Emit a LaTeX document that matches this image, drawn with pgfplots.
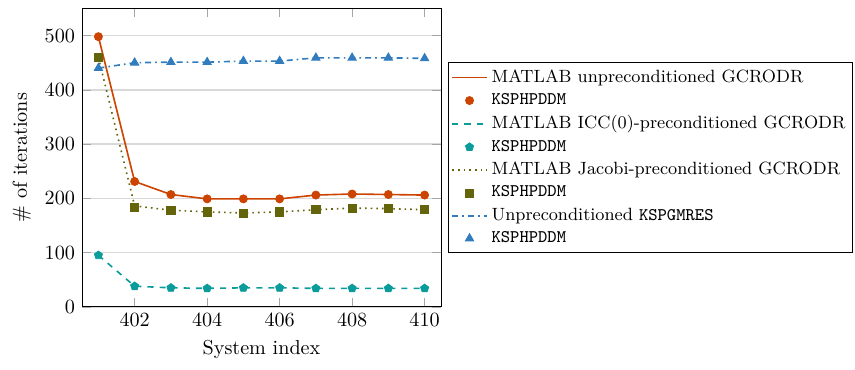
\documentclass[border=0pt]{standalone}
\usepackage{pgfplots}
\pgfplotsset{compat=1.18}
\definecolor{corange}{RGB}{204,68,0}
\definecolor{cteal}{RGB}{10,155,155}
\definecolor{colive}{RGB}{100,100,10}
\definecolor{cblue}{RGB}{48,124,190}
\begin{document}
\begin{tikzpicture}
\begin{axis}[
  scale only axis,
  width=178pt, height=148pt,
  xmin=400.55, xmax=410.45,
  ymin=0, ymax=550,
  xtick={402,404,406,408,410},
  ytick={0,100,200,300,400,500},
  ymajorgrids,
  grid style={gray!30, line width=0.8pt},
  major tick style={gray!70},
  xlabel={System index},
  ylabel={\# of iterations},
  legend cell align=left,
  legend style={at={(1.02,0.5)}, anchor=west, font=\fontsize{8.8pt}{10.6pt}\selectfont, inner xsep=1.5pt, inner ysep=1.5pt, row sep=0pt},
]
\addplot[corange, thick, no marks] coordinates {(401,498)(402,231)(403,207)(404,199)(405,199)(406,199)(407,206)(408,208)(409,207)(410,206)};
\addlegendentry{MATLAB unpreconditioned GCRODR}
\addplot[only marks, mark=*, corange, mark size=2pt] coordinates {(401,498)(402,231)(403,207)(404,199)(405,199)(406,199)(407,206)(408,208)(409,207)(410,206)};
\addlegendentry{\texttt{KSPHPDDM}}
\addplot[cteal, thick, dashed, no marks] coordinates {(401,95)(402,38)(403,35)(404,34)(405,35)(406,35)(407,34)(408,34)(409,34)(410,34)};
\addlegendentry{MATLAB ICC(0)-preconditioned GCRODR}
\addplot[only marks, mark=pentagon*, cteal, mark size=2.1pt] coordinates {(401,95)(402,38)(403,35)(404,34)(405,35)(406,35)(407,34)(408,34)(409,34)(410,34)};
\addlegendentry{\texttt{KSPHPDDM}}
\addplot[colive, thick, dotted, no marks] coordinates {(401,460)(402,186)(403,178)(404,175)(405,173)(406,175)(407,179)(408,182)(409,181)(410,179)};
\addlegendentry{MATLAB Jacobi-preconditioned GCRODR}
\addplot[only marks, mark=square*, colive, mark size=2pt] coordinates {(401,460)(402,184)(403,178)(404,175)(405,173)(406,175)(407,179)(408,182)(409,181)(410,179)};
\addlegendentry{\texttt{KSPHPDDM}}
\addplot[cblue, thick, dashdotted, no marks] coordinates {(401,440)(402,450)(403,451)(404,451)(405,453)(406,453)(407,459)(408,459)(409,459)(410,458)};
\addlegendentry{Unpreconditioned \texttt{KSPGMRES}}
\addplot[only marks, mark=triangle*, cblue, mark size=2.4pt] coordinates {(401,440)(402,450)(403,451)(404,451)(405,453)(406,453)(407,459)(408,459)(409,459)(410,458)};
\addlegendentry{\texttt{KSPHPDDM}}
\end{axis}
\path (current bounding box.south west) ++(-3pt,-2pt) (current bounding box.north east) ++(1pt,4pt);
\end{tikzpicture}
\end{document}
